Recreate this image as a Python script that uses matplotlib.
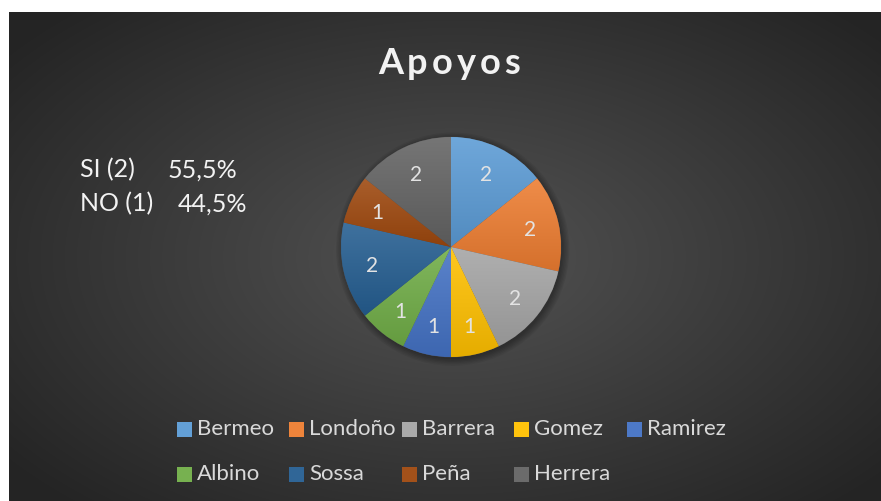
import matplotlib
matplotlib.use('Agg')
import matplotlib.pyplot as plt
import matplotlib.colors as mcolors
from matplotlib.patches import Rectangle, Circle
import numpy as np

names = ['Bermeo', 'Londoño', 'Barrera', 'Gomez', 'Ramirez',
         'Albino', 'Sossa', 'Peña', 'Herrera']
apoyos = [2, 2, 2, 1, 1, 1, 2, 1, 2]
colors = ['#5B9BD5', '#ED7D31', '#A5A5A5', '#FFC000', '#4472C4',
          '#70AD47', '#255E91', '#9E480E', '#636363']
note_left = ['SI (2)', 'NO (1)']
note_right = ['55,5%', '44,5%']
title = 'Apoyos'

W, H = 881, 502
plt.rcParams['font.family'] = ['Lato', 'DejaVu Sans']


def fx(px):
    return px / W


def fy(py):
    return 1 - py / H


def mix(c, other, t):
    a = np.array(mcolors.to_rgb(c))
    b = np.array(mcolors.to_rgb(other))
    return a + (b - a) * t


fig = plt.figure(figsize=(W / 100, H / 100), dpi=100)
fig.patch.set_facecolor('white')

# dark radial background panel
bg = fig.add_axes([fx(9), 0, (W - 9) / W, (H - 13) / H])
bg.set_axis_off()
yy, xx = np.mgrid[0:489, 0:872]
d = np.sqrt(((xx - 445) / 560) ** 2 + ((yy - 245) / 330) ** 2)
d = np.clip(d, 0, 1)
shade = 0x53 + (0x25 - 0x53) * d
img = np.dstack([shade, shade, shade]) / 255
bg.imshow(img, aspect='auto', extent=(0, 1, 0, 1))
bg.set_xlim(0, 1)
bg.set_ylim(0, 1)

# pie
cx, cy, r = 451, 248, 110
ax = fig.add_axes([fx(cx - r - 10), (H - cy - r - 10) / H,
                   (2 * r + 20) / W, (2 * r + 20) / H])
ax.set_axis_off()

# soft shadow under the pie
for k in range(6):
    ax.add_patch(Circle((0.015, -0.02), 1.0 + 0.012 * k, facecolor='black',
                        edgecolor='none', alpha=0.06, zorder=0))

wedges, texts = ax.pie(
    apoyos,
    colors=colors,
    labels=[str(v) for v in apoyos],
    labeldistance=0.74,
    startangle=90,
    counterclock=False,
    radius=1,
    wedgeprops=dict(edgecolor='#4a4a4a', linewidth=0.4),
    textprops=dict(color='#E3E3E3', fontsize=15, ha='center', va='center'),
)

# Excel-like shading on each slice: lighter top, darker bottom
for w, c in zip(wedges, colors):
    pts = w.get_patch_transform().transform(w.get_path().vertices)
    x0, x1 = pts[:, 0].min(), pts[:, 0].max()
    y0, y1 = pts[:, 1].min(), pts[:, 1].max()
    t = np.linspace(0, 1, 64)[:, None]
    top = mix(c, 'white', 0.12)
    bot = mix(c, 'black', 0.10)
    grad = top[None, None, :] + (bot - top)[None, None, :] * t[:, :, None]
    grad = np.repeat(grad, 2, axis=1)
    im = ax.imshow(grad, extent=(x0, x1, y0, y1), origin='upper',
                   aspect='auto', zorder=w.get_zorder() + 0.1)
    im.set_clip_path(w)
for tx in texts:
    tx.set_zorder(5)
lim = 1 + 10 / r
ax.set_xlim(-lim, lim)
ax.set_ylim(-lim, lim)
ax.set_aspect('equal')

# title with letter spacing
fig.canvas.draw()
renderer = fig.canvas.get_renderer()
chars = []
for ch in title:
    chars.append(fig.text(0, fy(63), ch, ha='left', va='center',
                          fontsize=26, fontweight='bold', color='#F2F2F2'))
widths = [c.get_window_extent(renderer).width for c in chars]
spacing = 4
total = sum(widths) + spacing * (len(chars) - 1)
x = 449 - total / 2
for c, wd in zip(chars, widths):
    c.set_x(fx(x))
    x += wd + spacing

for i in range(2):
    ypos = fy(170 + 34 * i)
    fig.text(fx(80), ypos, note_left[i], ha='left', va='center',
             fontsize=18, color='#F2F2F2')
    fig.text(fx(168 + 10 * i), ypos, note_right[i], ha='left', va='center',
             fontsize=18, color='#F2F2F2')

# legend, row-major with fixed column pitch like Excel
col_x = [177, 289, 402, 514, 627]
row_y = [430, 475]
sq = 15
for i, (name, c) in enumerate(zip(names, colors)):
    row, col = divmod(i, 5)
    mx, my = col_x[col], row_y[row]
    fig.patches.append(Rectangle((fx(mx), fy(my + sq / 2)), sq / W, sq / H,
                                 transform=fig.transFigure,
                                 facecolor=mix(c, 'white', 0.05), edgecolor='none'))
    fig.text(fx(mx + 20), fy(my - 1), name, ha='left', va='center',
             fontsize=16, color='#D9D9D9')

fig.savefig('out.png', dpi=100, facecolor=fig.get_facecolor())
